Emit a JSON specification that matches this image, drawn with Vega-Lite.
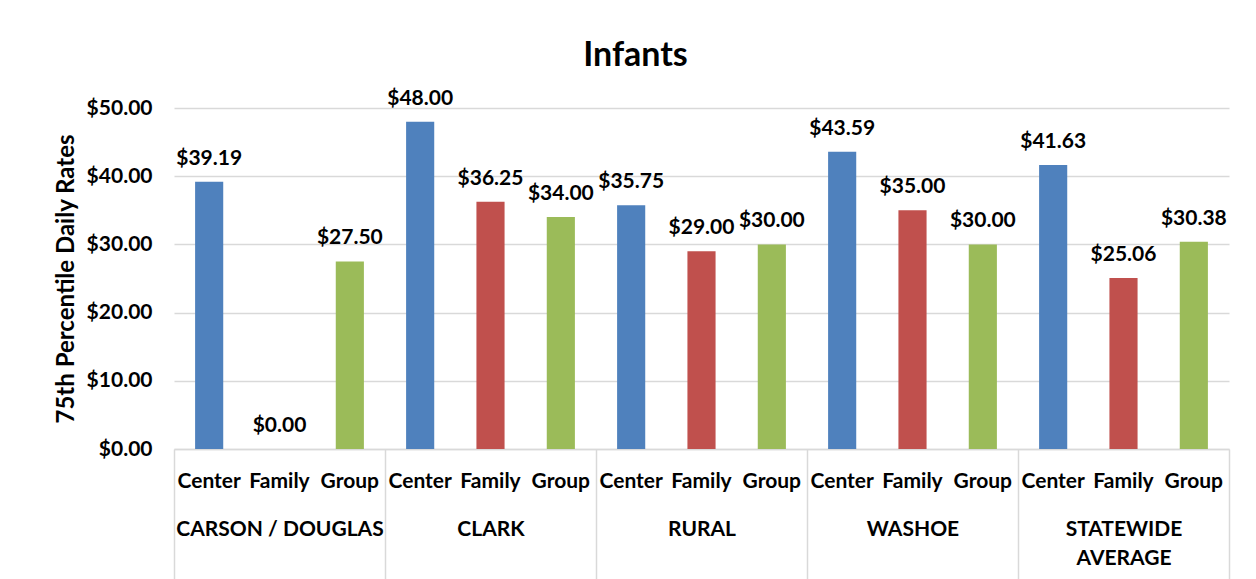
{
  "$schema": "https://vega.github.io/schema/vega-lite/v6.json",
  "autosize": "none",
  "width": 1055,
  "height": 341,
  "padding": {"left": 174, "top": 108, "right": 27, "bottom": 130},
  "background": "white",
  "config": {"view": {"stroke": null}, "font": "Lato"},
  "title": {"text": "Infants", "fontSize": 34, "fontWeight": "bold", "font": "Lato", "color": "#000000", "anchor": "middle", "dx": -66, "offset": 15},
  "layer": [
    {
      "data": {"values": [
        {"region": "CARSON / DOUGLAS", "type": "Center", "key": "CARSON / DOUGLAS|Center", "rate": 39.19},
        {"region": "CARSON / DOUGLAS", "type": "Family", "key": "CARSON / DOUGLAS|Family", "rate": 0},
        {"region": "CARSON / DOUGLAS", "type": "Group", "key": "CARSON / DOUGLAS|Group", "rate": 27.5},
        {"region": "CLARK", "type": "Center", "key": "CLARK|Center", "rate": 48.0},
        {"region": "CLARK", "type": "Family", "key": "CLARK|Family", "rate": 36.25},
        {"region": "CLARK", "type": "Group", "key": "CLARK|Group", "rate": 34.0},
        {"region": "RURAL", "type": "Center", "key": "RURAL|Center", "rate": 35.75},
        {"region": "RURAL", "type": "Family", "key": "RURAL|Family", "rate": 29.0},
        {"region": "RURAL", "type": "Group", "key": "RURAL|Group", "rate": 30.0},
        {"region": "WASHOE", "type": "Center", "key": "WASHOE|Center", "rate": 43.59},
        {"region": "WASHOE", "type": "Family", "key": "WASHOE|Family", "rate": 35.0},
        {"region": "WASHOE", "type": "Group", "key": "WASHOE|Group", "rate": 30.0},
        {"region": "STATEWIDE AVERAGE", "type": "Center", "key": "STATEWIDE AVERAGE|Center", "rate": 41.63},
        {"region": "STATEWIDE AVERAGE", "type": "Family", "key": "STATEWIDE AVERAGE|Family", "rate": 25.06},
        {"region": "STATEWIDE AVERAGE", "type": "Group", "key": "STATEWIDE AVERAGE|Group", "rate": 30.38}
      ]},
      "encoding": {
        "x": {
          "field": "key", "type": "nominal", "sort": null,
          "scale": {"paddingInner": 0.6, "paddingOuter": 0.3},
          "axis": {
            "orient": "bottom", "title": null, "ticks": false, "domain": true,
            "domainColor": "#d9d9d9", "domainWidth": 1.5,
            "labelAngle": 0, "labelExpr": "split(datum.value, '|')[1]",
            "labelFont": "Lato", "labelFontSize": 21, "labelFontWeight": "bold", "labelColor": "#000000",
            "labelPadding": 21, "labelBaseline": "top", "labelOverlap": false, "labelBound": false, "labelFlush": false, "labelLimit": 0
          }
        },
        "y": {
          "field": "rate", "type": "quantitative",
          "scale": {"domain": [0, 50], "nice": false},
          "axis": {
            "values": [0, 10, 20, 30, 40, 50], "format": "$.2f",
            "title": "75th Percentile Daily Rates", "titleFont": "Lato", "titleFontSize": 24, "titleFontWeight": "bold", "titleColor": "#000000", "titlePadding": 8,
            "labelFont": "Lato", "labelFontSize": 21, "labelFontWeight": "bold", "labelColor": "#000000", "labelPadding": 22,
            "domain": false, "ticks": false, "grid": true, "gridColor": "#d9d9d9", "gridWidth": 1.5
          }
        }
      },
      "layer": [
        {
          "mark": {"type": "bar"},
          "encoding": {
            "color": {"field": "type", "type": "nominal", "legend": null,
              "scale": {"domain": ["Center", "Family", "Group"], "range": ["#4f81bd", "#c0504d", "#9bbb59"]}}
          }
        },
        {
          "mark": {"type": "text", "baseline": "bottom", "dy": -13, "font": "Lato", "fontSize": 21, "fontWeight": "bold", "color": "#000000"},
          "encoding": {"text": {"field": "rate", "type": "quantitative", "format": "$.2f"}}
        }
      ]
    },
    {
      "data": {"values": [
        {"region": "CARSON / DOUGLAS"},
        {"region": "CLARK"},
        {"region": "RURAL"},
        {"region": "WASHOE"},
        {"region": "STATEWIDE AVERAGE"}
      ]},
      "mark": {"type": "rule", "strokeOpacity": 0},
      "encoding": {
        "x": {
          "field": "region", "type": "nominal", "sort": null,
          "scale": {"paddingInner": 0, "paddingOuter": 0},
          "axis": {
            "orient": "bottom", "title": null, "domain": false,
            "ticks": true, "tickBand": "extent", "tickSize": 135, "tickColor": "#d9d9d9", "tickWidth": 1.5,
            "labelAngle": 0, "labelPadding": -66, "labelBaseline": "top",
            "labelExpr": "datum.value == 'STATEWIDE AVERAGE' ? ['STATEWIDE', 'AVERAGE'] : datum.value",
            "labelFont": "Lato", "labelFontSize": 21, "labelFontWeight": "bold", "labelColor": "#000000",
            "labelLineHeight": 29, "labelOverlap": false, "labelBound": false, "labelFlush": false, "labelLimit": 0
          }
        }
      }
    }
  ],
  "resolve": {"scale": {"x": "independent"}, "axis": {"x": "independent"}}
}
